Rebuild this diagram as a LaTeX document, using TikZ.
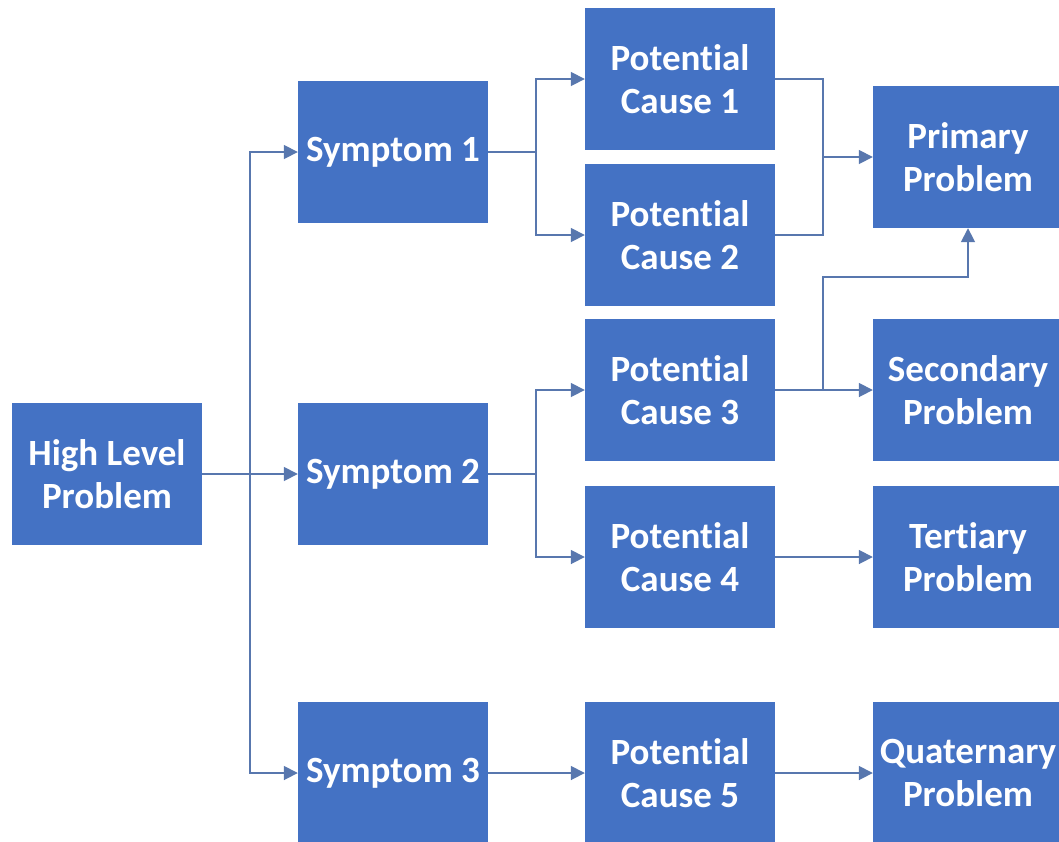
\documentclass[tikz,border=0pt]{standalone}
\usepackage{fontspec}
\setmainfont{Carlito}[Ligatures=NoCommon]
\usepackage{xcolor}
\usetikzlibrary{arrows.meta}
\definecolor{boxblue}{HTML}{4472C4}
\definecolor{linkblue}{HTML}{5877AE}

\begin{document}
\begin{tikzpicture}[x=1pt,y=-1pt,>={Triangle[length=14pt,width=14pt]},
  box/.style={fill=boxblue,minimum width=190pt,minimum height=142pt,inner sep=0pt,
    text=white,align=center,font=\fontsize{37}{43}\selectfont\bfseries},
  link/.style={draw=linkblue,line width=1.7pt}]
  \useasboundingbox (0,0) rectangle (1059,841);
  % boxes
  \node[box] (hlp) at (107,474) {High Level\\Problem};
  \node[box] (sym1) at (393,152) {Symptom 1};
  \node[box] (sym2) at (393,474) {Symptom 2};
  \node[box] (sym3) at (393,773) {Symptom 3};
  \node[box] (pc1) at (680,79) {Potential\\Cause 1};
  \node[box] (pc2) at (680,235) {Potential\\Cause 2};
  \node[box] (pc3) at (680,390) {Potential\\Cause 3};
  \node[box] (pc4) at (680,557) {Potential\\Cause 4};
  \node[box] (pc5) at (680,773) {Potential\\Cause 5};
  \node[box] (prim) at (968,157) {Primary\\Problem};
  \node[box] (sec) at (968,390) {Secondary\\Problem};
  \node[box] (ter) at (968,557) {Tertiary\\Problem};
  \node[box] (quat) at (968,773) {Quaternary\\Problem};
  % junctions
  \coordinate (hj) at (250,474);
  \coordinate (s1j) at (536,152);
  \coordinate (s2j) at (536,474);
  \coordinate (c12j) at (823,157);
  \coordinate (c3j) at (823,390);
  \coordinate (c3up) at (823,277);
  % links
  \draw[link,->] (hlp.east) -- (sym2.west);
  \draw[link,->] (hj) |- (sym1.west);
  \draw[link,->] (hj) |- (sym3.west);
  \draw[link] (sym1.east) -- (s1j);
  \draw[link,->] (s1j) |- (pc1.west);
  \draw[link,->] (s1j) |- (pc2.west);
  \draw[link] (sym2.east) -- (s2j);
  \draw[link,->] (s2j) |- (pc3.west);
  \draw[link,->] (s2j) |- (pc4.west);
  \draw[link,->] (sym3.east) -- (pc5.west);
  \draw[link] (pc1.east) -| (c12j) |- (pc2.east);
  \draw[link,->] (c12j) -- (prim.west);
  \draw[link,->] (pc3.east) -- (sec.west);
  \draw[link,->] (c3j) -- (c3up) -| (prim.south);
  \draw[link,->] (pc4.east) -- (ter.west);
  \draw[link,->] (pc5.east) -- (quat.west);
\end{tikzpicture}
\end{document}
